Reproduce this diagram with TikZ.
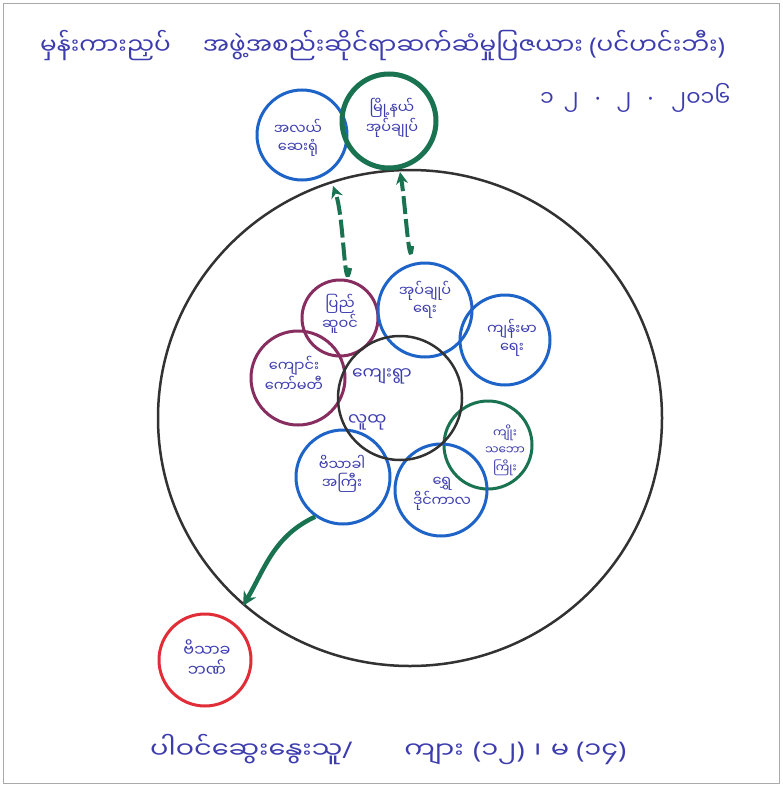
\documentclass[tikz,border=0pt]{standalone}
\usepackage{fontspec}
\newfontfamily\my[Script=Myanmar]{Noto Sans Myanmar UI}
\newfontfamily\lat{Noto Sans}
\newcommand\LPar{{\lat(}}
\newcommand\RPar{{\lat)}}
\newcommand\Sl{{\lat/}}
\newcommand\Dt{{\lat·}}
\usetikzlibrary{arrows.meta}
\definecolor{ink}{RGB}{60,60,175}
\definecolor{cblue}{RGB}{30,100,200}
\definecolor{cgreen}{RGB}{25,115,80}
\definecolor{cpurple}{RGB}{135,45,95}
\definecolor{cred}{RGB}{225,45,55}
\definecolor{cblack}{RGB}{50,50,50}
\definecolor{frame}{RGB}{170,170,170}
\begin{document}
\begin{tikzpicture}[x=1pt,y=-1pt,
  ring/.style={circle,draw=#1,line width=3pt,inner sep=0pt},
  lbl/.style={align=center,text=ink,inner sep=0pt,font=\my\fontsize{14.5}{18}\selectfont},
  inktext/.style={text=ink,inner sep=0pt,font=\my\fontsize{#1}{#1}\selectfont},
  grarrow/.style={draw=cgreen,line width=4.5pt,-{Stealth[length=14pt,width=14pt]}},
  grdash/.style={draw=cgreen,line width=4pt,dash pattern=on 18pt off 5pt,-{Stealth[length=12pt,width=12pt]}}]
\useasboundingbox (0,0) rectangle (783,787);
\fill[white] (0,0) rectangle (783,787);
\draw[frame,line width=1pt] (3,3) rectangle (779,783);
% title and date
\node[inktext=23,anchor=west,transform shape,xscale=1.07] (title) at (40,46) {မှန်းကားညှပ်\hspace{30pt}အဖွဲ့အစည်းဆိုင်ရာဆက်ဆံမှုပြဇယား \LPar ပင်ဟင်းဘီး\RPar};
\node[inktext=22,anchor=west] (date) at (540,98) {၁\hspace{10pt}၂\hspace{16pt}\Dt\hspace{16pt}၂\hspace{16pt}\Dt\hspace{18pt}၂၀၁၆};
% big circle
\draw[cblack,line width=2.5pt] (410,418) ellipse [x radius=252, y radius=248];
\coordinate (bigedge) at (243,606);
% outer circles
\node[ring=cblue,minimum size=90pt] (hosp) at (302,135) {};
\node[lbl] (hospT) at (298,138) {အလယ်\\ဆေးရုံ};
\node[ring=cgreen,line width=5pt,minimum size=94pt] (town) at (389,121) {};
\node[lbl] (townT) at (392,118) {မြို့နယ်\\အုပ်ချုပ်};
\node[ring=cred,minimum size=92pt] (bank) at (205,660) {};
\node[lbl,font=\my\fontsize{16}{20}\selectfont] (bankT) at (207,658) {ဗိသာခ\\ဘဏ်};
% inner circles
\node[ring=cpurple,minimum size=76pt] (p1) at (340,318) {};
\node[lbl] (p1T) at (340,314) {ပြည်\\ဆူဝင်};
\node[ring=cpurple,minimum size=94pt] (school) at (298,378) {};
\node[lbl] (schoolT) at (294,374) {ကျောင်း\\ကော်မတီ};
\node[ring=cblue,minimum size=94pt] (admin) at (425,310) {};
\node[lbl] (adminT) at (425,300) {အုပ်ချုပ်\\ရေး};
\node[ring=cblue,minimum size=90pt] (health) at (505,340) {};
\node[lbl] (healthT) at (512,338) {ကျန်းမာ\\ရေး};
\node[ring=cgreen,minimum size=88pt] (g2) at (488,445) {};
\node[ring=cblue,minimum size=92pt] (b2) at (441,490) {};
\node[ring=cblue,minimum size=94pt] (b3) at (343,477) {};
\node[ring=cblack,line width=2.5pt,minimum size=124pt] (vill) at (400,398) {};
\node[lbl,font=\my\fontsize{12}{17.5}\selectfont] (g2T) at (505,450) {ကျိုး\\သဘော\\ကြိုး};
\node[lbl] (b2T) at (442,494) {ရွှေ\\ဒိုင်ကာလ};
\node[lbl] (b3T) at (342,474) {ဗိသာခါ\\အကြီး};
\node[inktext=17,anchor=west] (villT1) at (352,376) {ကျေးရွာ};
\node[inktext=17,anchor=west] (villT2) at (348,422) {လူထု};
% arrows
\coordinate (a1s) at (350,268);
\coordinate (a1e) at (333,186);
\coordinate (a2s) at (412,246);
\coordinate (a2e) at (400,172);
\draw[grdash] (a1s) to[out=-100,in=-70] (a1e);
\draw[grdash] (a2s) to[out=-95,in=-80] (a2e);
\draw[grarrow] (b3.235) to[out=205,in=60] (bigedge);
% bottom text
\node[inktext=23,anchor=west,transform shape,xscale=1.18] (parts) at (150,750) {ပါဝင်ဆွေးနွေးသူ\Sl\hspace{44pt}ကျား\hspace{8pt}\LPar ၁၂\RPar\hspace{8pt}၊\hspace{8pt}မ\hspace{6pt}\LPar ၁၄\RPar};
\end{tikzpicture}
\end{document}
